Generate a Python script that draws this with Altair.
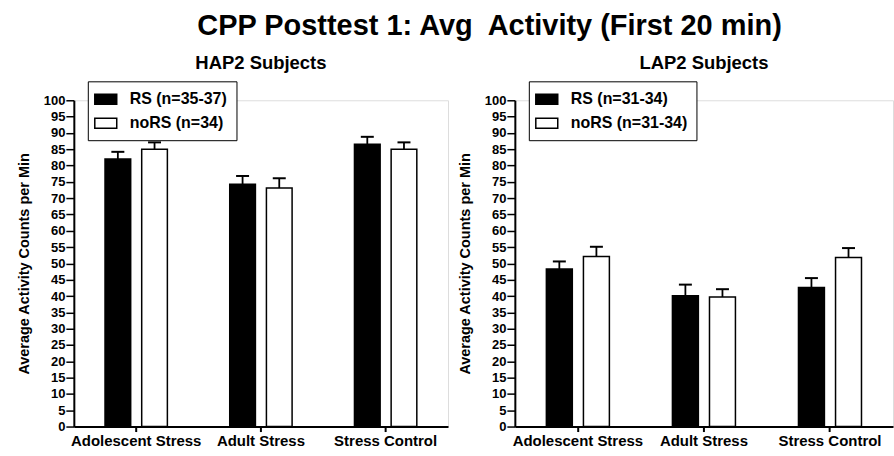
import altair as alt
import pandas as pd

# Group means and SEMs for the two subject lines
categories = ["Adolescent Stress", "Adult Stress", "Stress Control"]

hap2_series = ["RS (n=35-37)", "noRS (n=34)"]
hap2_rs_mean = [82.0, 74.3, 86.5]
hap2_rs_sem = [2.2, 2.5, 2.3]
hap2_nors_mean = [85.0, 73.1, 85.0]
hap2_nors_sem = [2.1, 3.0, 2.1]

lap2_series = ["RS (n=31-34)", "noRS (n=31-34)"]
lap2_rs_mean = [48.3, 40.1, 42.6]
lap2_rs_sem = [2.3, 3.4, 2.9]
lap2_nors_mean = [52.1, 39.7, 51.8]
lap2_nors_sem = [3.0, 2.4, 2.9]

y_ticks = list(range(0, 101, 5))

FONT = "Liberation Sans, Arial, sans-serif"
NARROW = "Liberation Sans Narrow, Arial Narrow, Liberation Sans, sans-serif"
Y_TITLE = "Average Activity Counts per Min"


def frame(series, rs_mean, rs_sem, nors_mean, nors_sem):
    rows = []
    for i, cat in enumerate(categories):
        rows.append({"category": cat, "series": series[0],
                     "mean": rs_mean[i], "upper": rs_mean[i] + rs_sem[i]})
        rows.append({"category": cat, "series": series[1],
                     "mean": nors_mean[i], "upper": nors_mean[i] + nors_sem[i]})
    return pd.DataFrame(rows)


def panel(df, series, title, width, legend_extra):
    y_scale = alt.Scale(domain=[0, 100], nice=False, zero=True)
    y_axis = alt.Axis(values=y_ticks, grid=False, tickSize=8, tickWidth=1.5,
                      domainWidth=2, domainColor="black", tickColor="black",
                      labelFont=NARROW, labelFontSize=13, labelFontWeight="bold",
                      labelColor="black", labelPadding=1,
                      title=Y_TITLE, titleFont=FONT, titleFontSize=14.5,
                      titleFontWeight="bold", titleColor="black", titlePadding=12)
    base = alt.Chart(df).encode(
        x=alt.X("category:N", sort=categories,
                scale=alt.Scale(paddingInner=0.5, paddingOuter=0.25),
                axis=alt.Axis(title=None, labelAngle=0, domainWidth=2,
                              domainColor="black", tickColor="black",
                              tickSize=5, tickWidth=2, labelFont=FONT,
                              labelFontSize=15, labelFontWeight="bold",
                              labelColor="black", labelPadding=2)),
        xOffset=alt.XOffset("series:N", sort=series,
                            scale=alt.Scale(paddingInner=0.3)),
    )
    # wide rectangular swatches, 22 x 10 px at symbolSize 256
    legend = alt.Legend(title=None, orient="none", legendX=14, legendY=-19,
                        strokeColor="black", fillColor="white", padding=9,
                        labelFont=FONT, labelFontSize=16, labelFontWeight="bold",
                        labelColor="black", labelOffset=15, labelLimit=0,
                        symbolType="M-1.375,-0.625H1.375V0.625H-1.375Z",
                        symbolSize=256,
                        symbolStrokeColor="black", symbolStrokeWidth=1.5,
                        symbolOpacity=1, rowPadding=7, **legend_extra)
    whisker = base.mark_rule(color="black", strokeWidth=1.8).encode(
        y=alt.Y("mean:Q", scale=y_scale, axis=y_axis), y2="upper:Q")
    caps = base.mark_tick(color="black", thickness=2, size=13, opacity=1).encode(
        y=alt.Y("upper:Q", scale=y_scale, axis=y_axis))
    bars = base.mark_bar(stroke="black", strokeWidth=1.5, opacity=1).encode(
        y=alt.Y("mean:Q", scale=y_scale, axis=y_axis),
        color=alt.Color("series:N", sort=series,
                        scale=alt.Scale(domain=series, range=["black", "white"]),
                        legend=legend),
    )
    return alt.layer(whisker, caps, bars).properties(
        width=width, height=327,
        title=alt.TitleParams(title, font=FONT, fontSize=18.5, fontWeight="bold",
                              color="black", offset=8),
    )


def build(legend_extra):
    hap2 = frame(hap2_series, hap2_rs_mean, hap2_rs_sem, hap2_nors_mean, hap2_nors_sem)
    lap2 = frame(lap2_series, lap2_rs_mean, lap2_rs_sem, lap2_nors_mean, lap2_nors_sem)
    left = panel(hap2, hap2_series, "HAP2 Subjects", 375, legend_extra)
    right = panel(lap2, lap2_series, "LAP2 Subjects", 379, legend_extra)
    return (
        alt.hconcat(left, right, spacing=7)
        .resolve_scale(color="independent", x="independent", y="independent",
                       xOffset="independent")
        .resolve_legend(color="independent")
        .properties(
            title=alt.TitleParams("CPP Posttest 1: Avg\u00a0 Activity (First 20 min)",
                                  font=FONT, fontSize=29, fontWeight="bold",
                                  color="black", anchor="middle", dx=35, offset=13),
            padding={"left": 15, "top": 11, "right": 0, "bottom": 0},
        )
        .configure_view(stroke=None)
        .configure(background="white")
    )


try:
    chart = build({"strokeWidth": 2})
    chart.save("out.html", embed_options={"renderer": "svg", "actions": False})
except Exception:
    chart = build({})
    chart.save("out.html", embed_options={"renderer": "svg", "actions": False})
